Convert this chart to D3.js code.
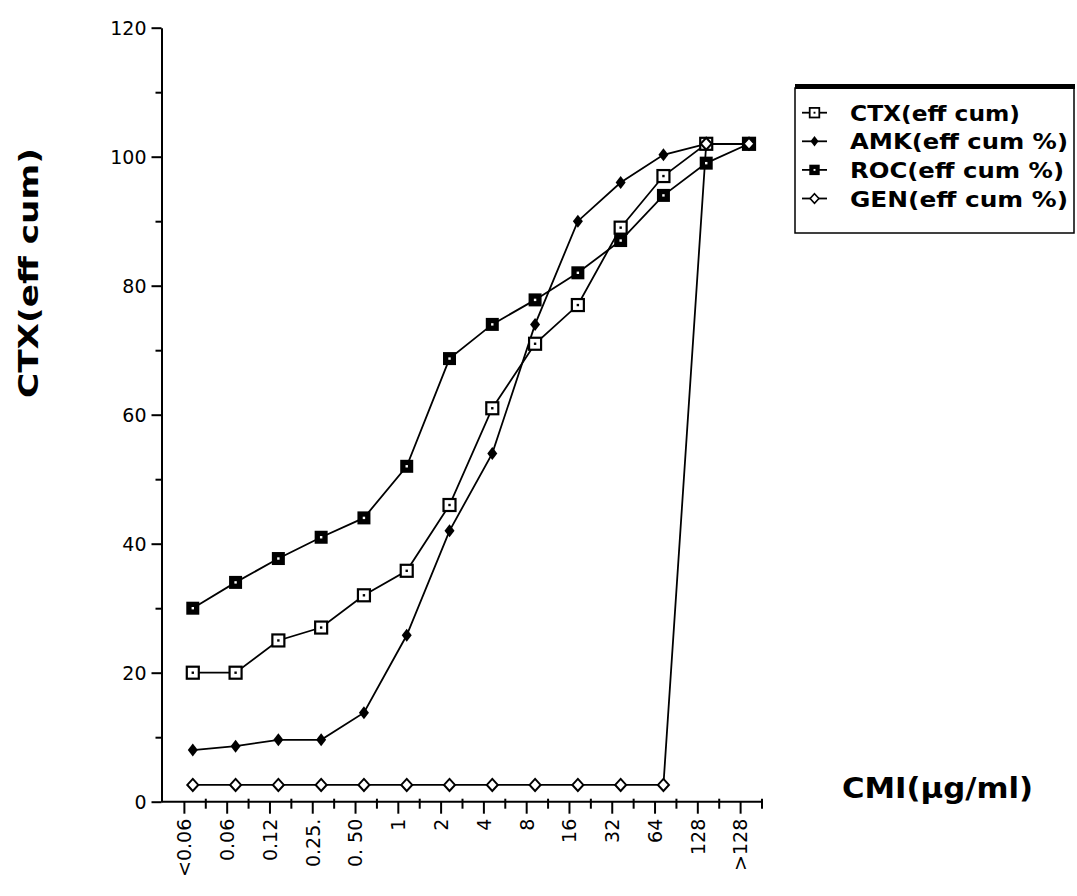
<!DOCTYPE html>
<html>
<head>
<meta charset="utf-8">
<script src="https://cdn.jsdelivr.net/npm/d3@7/dist/d3.min.js"></script>
<style>
  body { margin: 0; background: #fff; }
  text { fill: #000; }
</style>
</head>
<body>
<div id="chart"></div>
<script>
// categories (CMI, µg/ml) and cumulative efficacy per antibiotic
var cats = ["<0.06", "0.06", "0.12", "0.25.", "0. 50", "1", "2", "4", "8", "16", "32", "64", "128", ">128"];
var ctx = [20, 20, 25, 27, 32, 35.8, 46, 61, 71, 77, 89, 97, 102, 102];
var amk = [8, 8.6, 9.6, 9.6, 13.8, 25.8, 42, 54, 74, 90, 96, 100.3, 102, 102];
var roc = [30, 34, 37.7, 41, 44, 52, 68.7, 74, 77.8, 82, 87, 94, 99, 102];
var gen = [2.6, 2.6, 2.6, 2.6, 2.6, 2.6, 2.6, 2.6, 2.6, 2.6, 2.6, 2.6, 102, 102];
var yTicks = [0, 20, 40, 60, 80, 100, 120];
var yMinor = [10, 30, 50, 70, 90, 110];
var seriesNames = ["CTX(eff cum)", "AMK(eff cum %)", "ROC(eff cum %)", "GEN(eff cum %)"];

(function () {
  var width = 1077, height = 896;

  var svg = d3.select('#chart')
    .append('svg')
    .attr('width', width)
    .attr('height', height);

  var x = d3.scaleBand().domain(cats).range([163, 762]);
  var y = d3.scaleLinear().domain([0, 120]).range([801.7, 27.7]);
  var shift = 8.4; // points sit a little right of the tick marks
  var px = function (c) { return x(c) + x.bandwidth() / 2 + shift; };

  // y axis
  var gy = svg.append('g').attr('transform', 'translate(161.5,0)');
  gy.call(d3.axisLeft(y).tickValues(yTicks).tickSize(10).tickPadding(5).tickSizeOuter(0));
  gy.append('g').call(d3.axisLeft(y).tickValues(yMinor).tickSize(6).tickFormat('').tickSizeOuter(0))
    .select('.domain').remove();
  gy.selectAll('path, line').attr('stroke', '#000').attr('stroke-width', 2);
  gy.selectAll('text')
    .style('font-family', '"DejaVu Sans", sans-serif')
    .style('font-size', '19px')
    .attr('dy', '0.36em');

  // x axis
  var gx = svg.append('g').attr('transform', 'translate(0,801.7)');
  gx.call(d3.axisBottom(x).tickSize(12).tickSizeOuter(0));
  gx.select('.domain').attr('d', 'M161.5,0H762');
  gx.selectAll('.tick text')
    .style('font-family', '"DejaVu Sans", sans-serif')
    .style('font-size', '19px')
    .attr('text-anchor', 'end')
    .attr('transform', 'rotate(-90)')
    .attr('x', -17)
    .attr('y', 0)
    .attr('dy', '0.36em');
  var edges = cats.map(function (c) { return x(c); }).concat([x.range()[1]]);
  gx.selectAll('.minor')
    .data(edges.slice(1))
    .enter().append('line')
    .attr('class', 'minor')
    .attr('x1', function (d) { return d; })
    .attr('x2', function (d) { return d; })
    .attr('y1', -3)
    .attr('y2', 7);
  gx.selectAll('path, line').attr('stroke', '#000').attr('stroke-width', 2);

  // lines
  var series = [ctx, amk, roc, gen];
  var line = d3.line()
    .x(function (d, i) { return px(cats[i]); })
    .y(function (d) { return y(d); });

  svg.append('g').selectAll('path')
    .data(series)
    .enter().append('path')
    .attr('d', line)
    .attr('fill', 'none')
    .attr('stroke', '#000')
    .attr('stroke-width', 1.8);

  // markers
  function drawMarker(g, kind) {
    if (kind === 0) {
      g.append('rect').attr('x', -6).attr('y', -6).attr('width', 12).attr('height', 12)
        .attr('fill', '#fff').attr('stroke', '#000').attr('stroke-width', 2.2);
      g.append('rect').attr('x', -1.2).attr('y', -1.2).attr('width', 2.4).attr('height', 2.4).attr('fill', '#000');
    } else if (kind === 1) {
      g.append('path').attr('d', 'M0,-6.5L5,0L0,6.5L-5,0Z').attr('fill', '#000');
    } else if (kind === 2) {
      g.append('rect').attr('x', -6.5).attr('y', -6.5).attr('width', 13).attr('height', 13).attr('fill', '#000');
      g.append('rect').attr('x', -1.2).attr('y', -1.2).attr('width', 2.4).attr('height', 2.4).attr('fill', '#fff');
    } else {
      g.append('path').attr('d', 'M0,-6L5.5,0L0,6L-5.5,0Z')
        .attr('fill', '#fff').attr('stroke', '#000').attr('stroke-width', 2);
    }
  }

  series.forEach(function (s, k) {
    var gm = svg.append('g');
    s.forEach(function (v, i) {
      var g = gm.append('g').attr('transform', 'translate(' + px(cats[i]) + ',' + y(v) + ')');
      drawMarker(g, k);
    });
  });

  // axis titles
  svg.append('text')
    .attr('transform', 'translate(38,273) rotate(-90)')
    .attr('text-anchor', 'middle')
    .attr('textLength', 250)
    .attr('lengthAdjust', 'spacingAndGlyphs')
    .style('font-family', '"DejaVu Sans", sans-serif')
    .style('font-weight', 'bold')
    .style('font-size', '27px')
    .text('CTX(eff cum)');

  svg.append('text')
    .attr('x', 842)
    .attr('y', 798)
    .attr('textLength', 191)
    .attr('lengthAdjust', 'spacingAndGlyphs')
    .style('font-family', '"DejaVu Sans", sans-serif')
    .style('font-weight', 'bold')
    .style('font-size', '29px')
    .text('CMI(µg/ml)');

  // legend
  var lg = svg.append('g');
  lg.append('rect').attr('x', 795).attr('y', 88).attr('width', 279).attr('height', 145)
    .attr('fill', '#fff').attr('stroke', '#000').attr('stroke-width', 1.5);
  lg.append('rect').attr('x', 795).attr('y', 84).attr('width', 280).attr('height', 5).attr('fill', '#000');

  var lens = [170, 218, 214, 218];
  seriesNames.forEach(function (name, k) {
    var cy = 112.7 + k * 28.6;
    lg.append('line').attr('x1', 802).attr('x2', 827).attr('y1', cy).attr('y2', cy)
      .attr('stroke', '#000').attr('stroke-width', 1.8);
    drawMarker(lg.append('g').attr('transform', 'translate(814.5,' + cy + ') scale(0.8)'), k);
    lg.append('text')
      .attr('x', 850)
      .attr('y', cy + 8)
      .attr('textLength', lens[k])
      .attr('lengthAdjust', 'spacingAndGlyphs')
      .style('font-family', '"DejaVu Sans", sans-serif')
      .style('font-weight', 'bold')
      .style('font-size', '21px')
      .text(name);
  });
})();
</script>
</body>
</html>
